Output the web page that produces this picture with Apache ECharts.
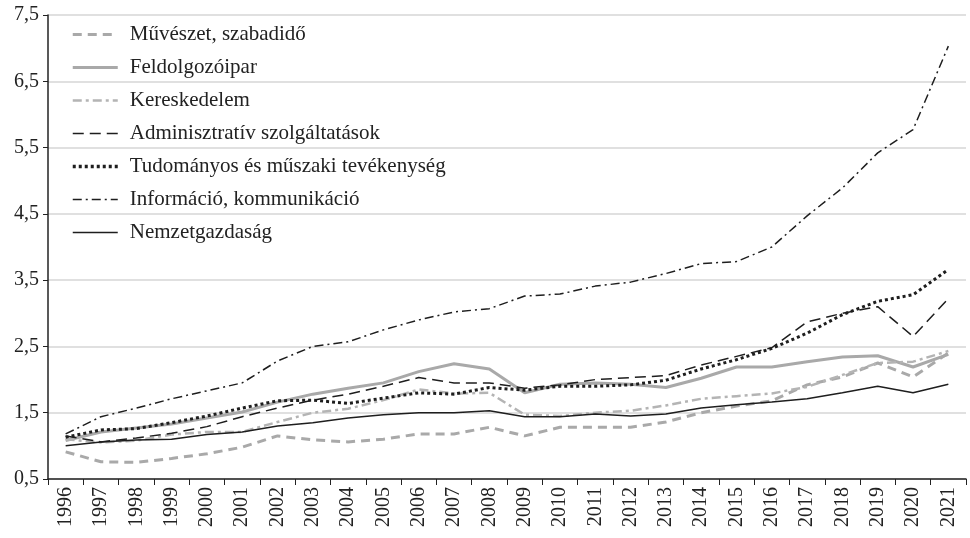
<!DOCTYPE html>
<html>
<head>
<meta charset="utf-8">
<script src="https://cdn.jsdelivr.net/npm/echarts@6/dist/echarts.min.js"></script>
<style>
  html, body { margin: 0; padding: 0; background: #fff; }
  #chart { width: 970px; height: 538px; }
</style>
</head>
<body>
<div id="chart"></div>
<script>
// 年份
var years = ["1996","1997","1998","1999","2000","2001","2002","2003","2004","2005","2006","2007","2008",
  "2009","2010","2011","2012","2013","2014","2015","2016","2017","2018","2019","2020","2021"];

// 各行业数据
var muveszet = [0.91, 0.76, 0.75, 0.81, 0.88, 0.98, 1.15, 1.09, 1.06, 1.10, 1.18, 1.18, 1.28,
  1.15, 1.28, 1.28, 1.28, 1.36, 1.50, 1.60, 1.68, 1.92, 2.04, 2.25, 2.04, 2.40];
var feldolgozo = [1.08, 1.21, 1.27, 1.33, 1.42, 1.51, 1.66, 1.78, 1.87, 1.95, 2.12, 2.24, 2.16,
  1.80, 1.93, 1.95, 1.93, 1.88, 2.02, 2.19, 2.19, 2.27, 2.34, 2.36, 2.19, 2.38];
var kereskedelem = [1.10, 1.05, 1.08, 1.17, 1.21, 1.21, 1.36, 1.50, 1.56, 1.69, 1.85, 1.79, 1.80,
  1.47, 1.45, 1.50, 1.53, 1.61, 1.71, 1.75, 1.79, 1.89, 2.07, 2.25, 2.27, 2.43];
var adminisztrativ = [1.15, 1.06, 1.12, 1.19, 1.29, 1.44, 1.57, 1.69, 1.78, 1.90, 2.03, 1.95, 1.95,
  1.87, 1.92, 2.00, 2.03, 2.06, 2.22, 2.35, 2.48, 2.87, 3.00, 3.10, 2.65, 3.22];
var tudomanyos = [1.13, 1.24, 1.26, 1.35, 1.45, 1.57, 1.68, 1.69, 1.64, 1.72, 1.80, 1.78, 1.88,
  1.84, 1.90, 1.90, 1.92, 1.99, 2.16, 2.30, 2.47, 2.70, 2.98, 3.18, 3.28, 3.66];
var informacio = [1.18, 1.44, 1.57, 1.71, 1.83, 1.95, 2.28, 2.50, 2.57, 2.75, 2.90, 3.02, 3.07,
  3.26, 3.29, 3.41, 3.47, 3.60, 3.75, 3.78, 4.00, 4.47, 4.89, 5.42, 5.77, 7.03];
var nemzet = [1.00, 1.06, 1.09, 1.10, 1.17, 1.21, 1.30, 1.35, 1.42, 1.47, 1.50, 1.50, 1.53,
  1.44, 1.44, 1.48, 1.45, 1.48, 1.57, 1.62, 1.66, 1.71, 1.80, 1.90, 1.80, 1.93];

var names = ["Művészet, szabadidő", "Feldolgozóipar", "Kereskedelem", "Adminisztratív szolgáltatások",
  "Tudományos és műszaki tevékenység", "Információ, kommunikáció", "Nemzetgazdaság"];

var font = "'Liberation Serif', 'DejaVu Serif', serif";
var gray = "#a9a9a9";
var black = "#1e1e1e";

// 线型: [颜色, 宽度, 类型]
var styles = [
  [gray, 3, [9, 6]],
  [gray, 3, "solid"],
  ["#b4b4b4", 2.5, [9, 4, 3, 4]],
  [black, 1.5, [11, 6]],
  [black, 3.5, [3, 3]],
  [black, 1.5, [9, 4, 2, 4]],
  [black, 1.5, "solid"]
];
var values = [muveszet, feldolgozo, kereskedelem, adminisztrativ, tudomanyos, informacio, nemzet];

var myChart = echarts.init(document.getElementById("chart"));

var series = names.map(function (name, i) {
  return {
    name: name,
    type: "line",
    data: values[i],
    symbol: "none",
    lineStyle: { color: styles[i][0], width: styles[i][1] === 3.5 ? 3 : styles[i][1], type: styles[i][2] },
    itemStyle: { color: styles[i][0] }
  };
});

var legendData = names.map(function (name, i) {
  return {
    name: name,
    lineStyle: { color: styles[i][0], width: styles[i][1], type: styles[i][2] }
  };
});

var option = {
  animation: false,
  grid: { left: 48, right: 4, top: 15, bottom: 59 },
  legend: {
    orient: "vertical",
    left: 66,
    top: 19,
    itemWidth: 45,
    itemHeight: 14,
    itemGap: 12,
    itemStyle: { opacity: 0 },
    textStyle: { fontFamily: font, fontSize: 21, color: "#222", padding: [0, 0, 0, 7] },
    data: legendData
  },
  xAxis: {
    type: "category",
    data: years,
    boundaryGap: true,
    axisLine: { lineStyle: { color: "#222", width: 1.5 } },
    axisTick: { show: true, length: 6, lineStyle: { color: "#222" } },
    axisLabel: { rotate: 90, fontFamily: font, fontSize: 20, color: "#222", margin: 8 }
  },
  yAxis: {
    type: "value",
    min: 0.5,
    max: 7.5,
    interval: 1,
    axisLine: { show: true, lineStyle: { color: "#222", width: 1.5 } },
    axisTick: { show: true, length: 5, lineStyle: { color: "#222" } },
    axisLabel: {
      fontFamily: font, fontSize: 20, color: "#222", margin: 9,
      formatter: function (v) { return v.toFixed(1).replace(".", ","); }
    },
    splitLine: { lineStyle: { color: "#d6d6d6", width: 1.5 } }
  },
  series: series
};

myChart.setOption(option);
window.addEventListener("resize", function () {
  myChart.resize();
});
</script>
</body>
</html>
